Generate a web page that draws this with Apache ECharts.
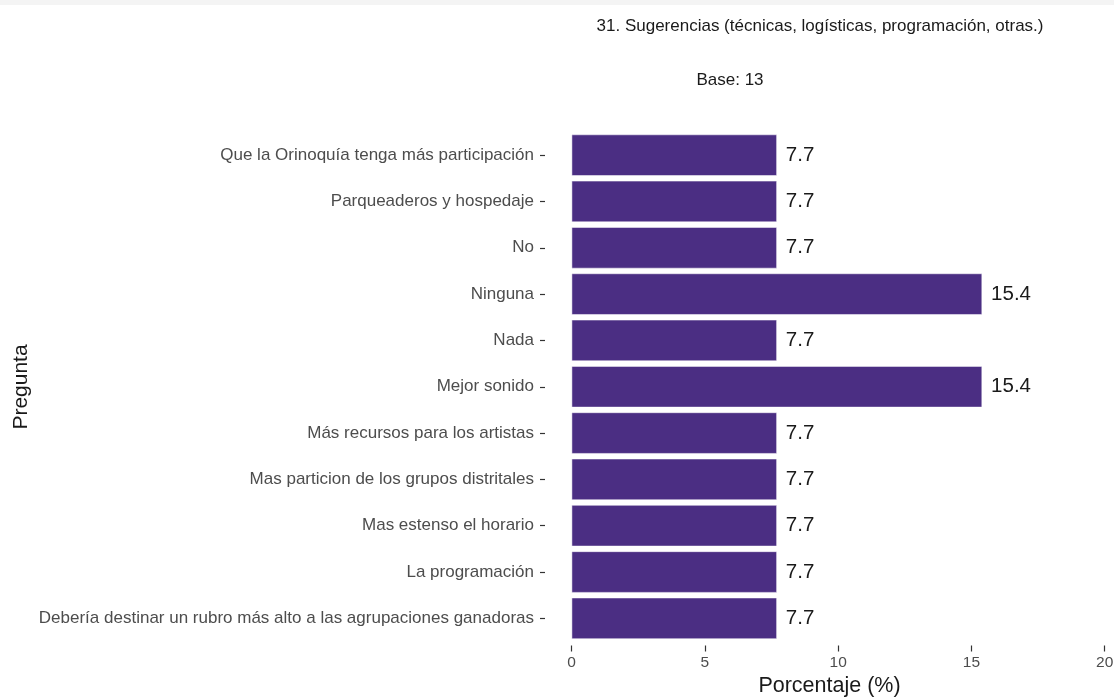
<!DOCTYPE html>
<html><head><meta charset="utf-8">
<script src="https://cdn.jsdelivr.net/npm/echarts@6/dist/echarts.min.js"></script>
<style>html,body{margin:0;padding:0;background:#fff}#c{width:1114px;height:697px}</style>
</head><body><div id="c"></div>
<script>
const categories = [
  "Que la Orinoquía tenga más participación",
  "Parqueaderos y hospedaje",
  "No",
  "Ninguna",
  "Nada",
  "Mejor sonido",
  "Más recursos para los artistas",
  "Mas particion de los grupos distritales",
  "Mas estenso el horario",
  "La programación",
  "Debería destinar un rubro más alto a las agrupaciones ganadoras"
];
const values = [7.7, 7.7, 7.7, 15.4, 7.7, 15.4, 7.7, 7.7, 7.7, 7.7, 7.7];
const xTicks = [0, 5, 10, 15, 20];
const titleText = "31. Sugerencias (técnicas, logísticas, programación, otras.)";
const subtitleText = "Base: 13";
const xName = "Porcentaje (%)";
const yName = "Pregunta";

const FONT = "Liberation Sans, Arial, sans-serif";
const chart = echarts.init(document.getElementById('c'), null, {renderer: 'canvas'});
chart.setOption({
  backgroundColor: '#ffffff',
  animation: false,
  graphic: [
    {type: 'rect', shape: {x: 0, y: 0, width: 1114, height: 5}, style: {fill: '#f4f4f4'}},
    {type: 'text',
     style: {text: titleText, font: '17px ' + FONT, fill: '#1a1a1a', x: 820, y: 26, textAlign: 'center', textVerticalAlign: 'middle'}},
    {type: 'text',
     style: {text: subtitleText, font: '17px ' + FONT, fill: '#1a1a1a', x: 730, y: 80, textAlign: 'center', textVerticalAlign: 'middle'}},
    {type: 'text', rotation: Math.PI / 2, x: 21, y: 387,
     style: {text: yName, font: '21px ' + FONT, fill: '#1a1a1a', x: 0, y: 0, textAlign: 'center', textVerticalAlign: 'middle'}}
  ],
  grid: {left: 545, right: 0, top: 132, bottom: 55.5, containLabel: false, outerBoundsMode: 'none'},
  xAxis: {
    type: 'value', min: -1, max: 20.35,
    offset: 4,
    axisLine: {show: false},
    axisTick: {show: true, length: 6, customValues: xTicks, lineStyle: {color: '#333', width: 1.2}},
    splitLine: {show: false},
    axisLabel: {color: '#4d4d4d', fontSize: 15.5, fontFamily: FONT, margin: 9, customValues: xTicks},
    name: xName, nameLocation: 'middle', nameGap: 30,
    nameTextStyle: {fontSize: 21.5, color: '#1a1a1a', fontFamily: FONT, padding: [0, 0, 0, 0]}
  },
  yAxis: {
    type: 'category', data: categories, inverse: true,
    axisLine: {show: false, onZero: false},
    axisTick: {show: true, alignWithLabel: true, length: 5, lineStyle: {color: '#333', width: 1.2}},
    axisLabel: {color: '#4d4d4d', fontSize: 17, fontFamily: FONT, margin: 11}
  },
  series: [{
    type: 'bar', data: values, barCategoryGap: '11%',
    itemStyle: {color: '#4B2E83', borderColor: '#ffffff', borderWidth: 0.5},
    label: {show: true, position: 'right', distance: 9, fontSize: 20.5, color: '#1a1a1a', fontFamily: FONT,
      formatter: p => p.value.toFixed(1)}
  }]
});
</script></body></html>
